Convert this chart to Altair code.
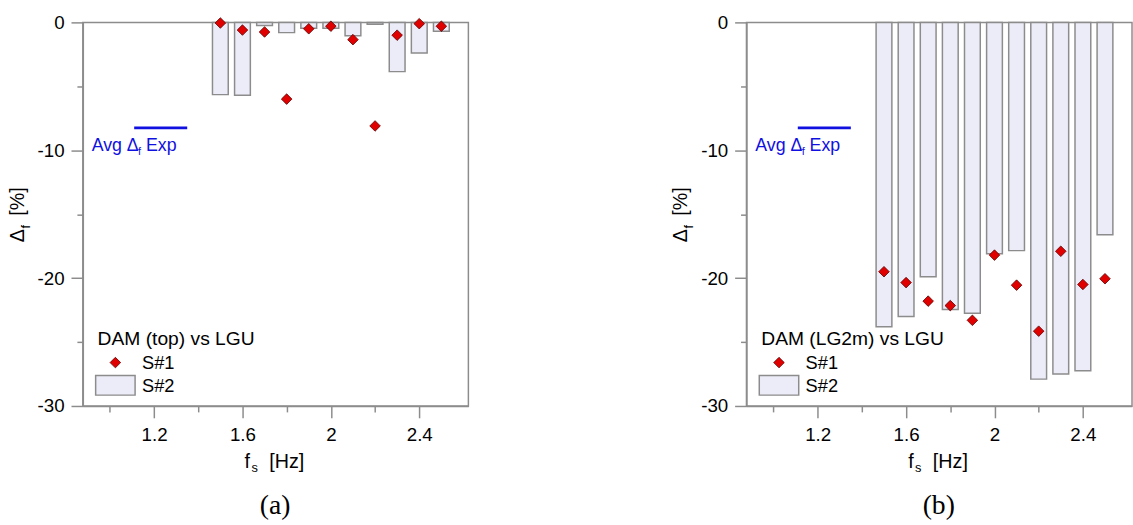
import altair as alt
import pandas as pd

# Shaking frequencies of the test series
fs = [1.5, 1.6, 1.7, 1.8, 1.9, 2.0, 2.1, 2.2, 2.3, 2.4, 2.5]

# (a) DAM (top) vs LGU, frequency deviation in %
top_s1 = [-0.05, -0.6, -0.75, -6.0, -0.5, -0.3, -1.35, -8.1, -1.0, -0.1, -0.3]
top_s2 = [-5.65, -5.7, -0.25, -0.8, -0.45, -0.45, -1.05, -0.15, -3.85, -2.4, -0.7]

# (b) DAM (LG2m) vs LGU, frequency deviation in %
lg2m_s1 = [-19.5, -20.35, -21.8, -22.15, -23.3, -18.2, -20.55, -24.15, -17.9, -20.5, -20.05]
lg2m_s2 = [-23.8, -23.0, -19.9, -22.45, -22.75, -18.1, -17.85, -27.9, -27.5, -27.25, -16.6]

# experimental average deviation, drawn as a short reference segment
avg_exp = [-8.25]
avg_from = [1.11]
avg_to = [1.35]

x_ticks = [1.0, 1.2, 1.4, 1.6, 1.8, 2.0, 2.2, 2.4]
x_major = [1.2, 1.6, 2.0, 2.4]
y_ticks = [-30, -25, -20, -15, -10, -5, 0]

SANS = "Liberation Sans"
SERIF = "Liberation Serif"
GREY = "#8c8c8c"
RED = "#e00000"
BLUE = "#1010e0"
BAR_FILL = "#ececf9"

W, H = 391, 389

xscale = alt.Scale(domain=[0.9, 2.6], nice=False, zero=False)
yscale = alt.Scale(domain=[-30, 0], nice=False)

x_major_test = "indexof([1.2, 1.6, 2, 2.4], datum.value) >= 0"
xaxis = alt.Axis(
    values=x_ticks,
    title=None,
    grid=False,
    labelExpr=f"{x_major_test} ? format(datum.value, '.1~f') : ''",
    tickSize={"condition": {"test": x_major_test, "value": 12}, "value": 6},
    labelPadding=8,
)
yaxis = alt.Axis(
    values=y_ticks,
    title=None,
    grid=False,
    labelExpr="datum.value % 10 == 0 ? toString(datum.value) : ''",
    tickSize={"condition": {"test": "datum.value % 10 == 0", "value": 12}, "value": 6},
    labelPadding=7,
)


def text(t, x, y, size=18, color="black", font=SANS, align="left",
         baseline="alphabetic", angle=0):
    return alt.Chart(pd.DataFrame({"t": [t]})).mark_text(
        align=align, baseline=baseline, fontSize=size, font=font,
        color=color, angle=angle,
    ).encode(text="t:N", x=alt.value(x), y=alt.value(y))


def panel(s1, s2, legend_title, tag):
    df = pd.DataFrame({"fs": fs, "s1": s1, "s2": s2})
    X = alt.X("fs:Q", scale=xscale, axis=xaxis)

    bars = alt.Chart(df).mark_bar(
        size=16, fill=BAR_FILL, stroke=GREY, strokeWidth=1.5
    ).encode(x=X, y=alt.Y("s2:Q", scale=yscale, axis=yaxis))

    pts = alt.Chart(df).mark_point(
        shape="diamond", filled=True, size=115, fill=RED, stroke="#5a0000",
        strokeWidth=0.8, opacity=1,
    ).encode(x=X, y=alt.Y("s1:Q", scale=yscale, axis=yaxis))

    avg_df = pd.DataFrame({"fs": avg_from, "fs2": avg_to, "s1": avg_exp})
    avg = alt.Chart(avg_df).mark_rule(color=BLUE, strokeWidth=3).encode(
        x=X, x2="fs2:Q", y=alt.Y("s1:Q", scale=yscale, axis=yaxis)
    )

    # legend drawn inside the plot, lower left
    key = pd.DataFrame({"k": [0]})
    leg_pt = alt.Chart(key).mark_point(
        shape="diamond", filled=True, size=115, fill=RED, stroke="#5a0000",
        strokeWidth=0.8, opacity=1,
    ).encode(x=alt.value(33), y=alt.value(345))
    leg_box = alt.Chart(key).mark_rect(
        fill=BAR_FILL, stroke=GREY, strokeWidth=1.5
    ).encode(x=alt.value(13), x2=alt.value(53), y=alt.value(358), y2=alt.value(378))

    layers = [
        bars, pts, avg,
        # "Avg Δf Exp" with subscript f
        text("Avg Δ", 9, 130, size=18, color=BLUE),
        text("f", 56, 134, size=11, color=BLUE),
        text("Exp", 64, 130, size=18, color=BLUE),
        # legend
        text(legend_title, 15, 327, size=19.5),
        leg_pt, leg_box,
        text("S#1", 60, 351, size=18.5),
        text("S#2", 60, 375, size=18.5),
        # x axis title: f_s [Hz]
        text("f", 164, 452, size=20),
        text("s", 171, 456, size=13),
        text("[Hz]", 189, 452, size=20),
        # y axis title: Δ_f [%] (rotated)
        text("Δ", -60, 223, size=20, angle=270),
        text("f", -54, 209, size=13, angle=270),
        text("[%]", -60, 196, size=20, angle=270),
        # panel tag
        text(tag, 195, 491, size=28, font=SERIF, align="center", baseline="middle"),
    ]
    return alt.layer(*layers).properties(width=W, height=H)


left = panel(top_s1, top_s2, "DAM (top) vs LGU", "(a)")
right = panel(lg2m_s1, lg2m_s2, "DAM (LG2m) vs LGU", "(b)")

chart = alt.hconcat(left, right, spacing=204).properties(
    padding={"left": 7, "top": 9, "right": 0, "bottom": 0},
    background="white",
).configure_view(
    stroke=GREY, strokeWidth=1.5
).configure_axis(
    domainColor=GREY, domainWidth=1.5, tickColor=GREY, tickWidth=1.5,
    labelFont=SANS, labelFontSize=19, labelColor="black",
)

chart.save("out.html", embed_options={"renderer": "svg", "actions": False})
